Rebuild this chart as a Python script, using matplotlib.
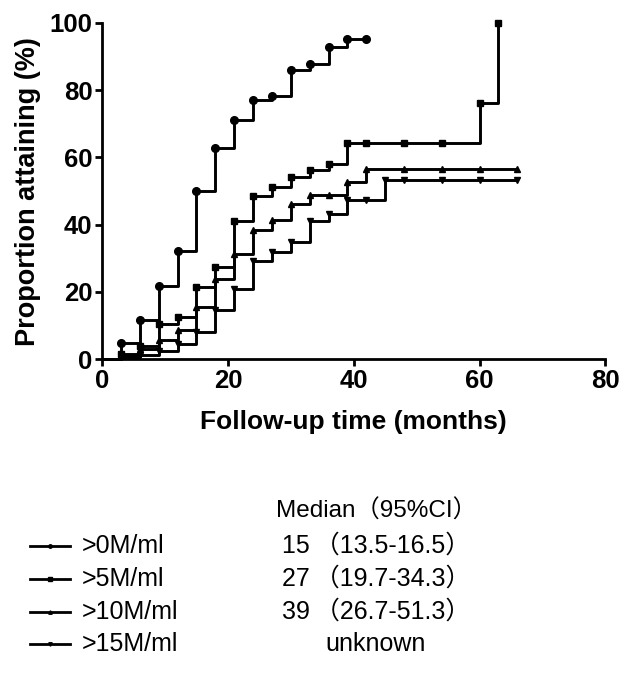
import matplotlib
matplotlib.use("Agg")
import matplotlib.pyplot as plt
from matplotlib.lines import Line2D

# cumulative proportion attaining (%)
months_0 = [0, 3, 6, 9, 12, 15, 18, 21, 24, 27, 30, 33, 36, 39, 42]
gt0 = [0, 4.9, 11.7, 21.7, 32.3, 50.1, 62.7, 71.0, 77.2, 78.4, 85.9, 87.7, 92.8, 95.1, 95.1]

months_5 = [0, 3, 6, 9, 12, 15, 18, 21, 24, 27, 30, 33, 36, 39, 42, 48, 54, 60, 63]
gt5 = [0, 1.5, 3.9, 10.5, 12.5, 21.5, 27.4, 41.1, 48.6, 51.2, 54.3, 56.2, 58.2,
       64.4, 64.4, 64.4, 64.4, 76.2, 100]

months_10 = [0, 3, 6, 9, 12, 15, 18, 21, 24, 27, 30, 33, 36, 39, 42, 48, 54, 60, 66]
gt10 = [0, 1.2, 3.0, 5.6, 8.6, 15.4, 24.0, 31.4, 38.4, 41.3, 46.3, 48.9, 48.9,
        52.7, 56.6, 56.6, 56.6, 56.6, 56.6]

months_15 = [0, 3, 6, 9, 12, 15, 18, 21, 24, 27, 30, 33, 36, 39, 42, 45, 48, 54, 60, 66]
gt15 = [0, 0.6, 1.2, 2.4, 4.5, 8.0, 14.5, 21.0, 29.2, 32.0, 34.8, 41.1, 43.3,
        47.3, 47.3, 53.2, 53.2, 53.2, 53.2, 53.2]

labels = [">0M/ml", ">5M/ml", ">10M/ml", ">15M/ml"]
medians = ["15\u2009（13.5-16.5）", "27\u2009（19.7-34.3）", "39\u2009（26.7-51.3）", "unknown"]
median_title = "Median（95%CI）"

series = [(months_0, gt0, "o", 5.5),
          (months_5, gt5, "s", 5.0),
          (months_10, gt10, "^", 4.5),
          (months_15, gt15, "v", 4.5)]

bold = dict(family=["Liberation Sans", "DejaVu Sans"], weight="bold")
plain = ["Liberation Sans", "Noto Sans CJK SC", "DejaVu Sans"]

fig = plt.figure(figsize=(6.34, 6.74), dpi=100)
ax = fig.add_axes([0.161, 0.467, 0.794, 0.499])

for t, y, m, ms in series:
    ax.step(t, y, where="post", color="black", lw=2.1, clip_on=False)
    ax.plot(t[1:], y[1:], ls="none", marker=m, ms=ms, color="black", clip_on=False)

ax.set_xlim(0, 80)
ax.set_ylim(0, 100)
ax.set_xticks([0, 20, 40, 60, 80])
ax.set_yticks([0, 20, 40, 60, 80, 100])
for s in ["top", "right"]:
    ax.spines[s].set_visible(False)
for s in ["left", "bottom"]:
    ax.spines[s].set_linewidth(2.0)
ax.tick_params(direction="out", length=5, width=2.0, pad=2)
for lab in ax.get_xticklabels() + ax.get_yticklabels():
    lab.set_fontsize(18.5)
    lab.set_fontfamily(bold["family"])
    lab.set_fontweight("bold")

ax.set_xlabel("Follow-up time (months)", fontsize=19, labelpad=12, **bold)
ax.set_ylabel("Proportion attaining (%)", fontsize=19.5, labelpad=6, **bold)

# legend block below the plot
W, H = 634, 674
fig.text(376 / W, 1 - 511 / H, median_title, ha="center", va="center",
         fontsize=17.5, family=plain)
row_y = [546, 579, 612, 644]
for i, (t, y, m, ms) in enumerate(series):
    yy = 1 - row_y[i] / H
    fig.add_artist(Line2D([30 / W, 70 / W], [yy, yy], color="black", lw=2.0))
    fig.add_artist(Line2D([50 / W], [yy], color="black", marker=m, ms=2.5, ls="none"))
    fig.text(82 / W, yy, labels[i], ha="left", va="center", fontsize=18, family=plain)
    fig.text(376 / W, yy, medians[i], ha="center", va="center", fontsize=18, family=plain)

fig.savefig("out.png", dpi=100)
